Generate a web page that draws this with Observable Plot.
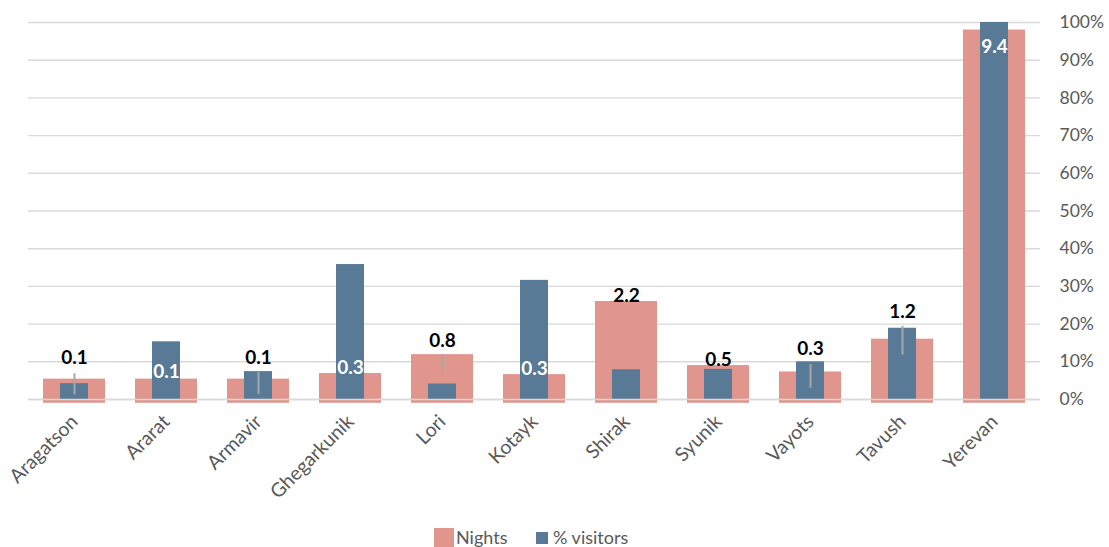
<!DOCTYPE html>
<html>
<head>
<meta charset="utf-8">
<script src="https://cdn.jsdelivr.net/npm/d3@7"></script>
<script src="https://cdn.jsdelivr.net/npm/@observablehq/plot@0.6"></script>
<style>
  html, body { margin: 0; padding: 0; background: #fff; }
  #wrap { position: relative; width: 1109px; height: 547px; overflow: hidden; font-family: Lato, "Open Sans", sans-serif; }
  #legend { position: absolute; left: 0; top: 526px; width: 1109px; height: 21px; }
  .sw { position: absolute; }
  .lt { position: absolute; font-size: 18px; color: #595959; line-height: 20px; }
</style>
</head>
<body>
<div id="wrap">
  <div id="chart"></div>
  <div id="legend">
    <div class="sw" style="left:434px; top:2px; width:20px; height:20px; background:#E0958D;"></div>
    <div class="lt" style="left:456px; top:1px;">Nights</div>
    <div class="sw" style="left:536px; top:6px; width:12px; height:12px; background:#597A97;"></div>
    <div class="lt" style="left:553px; top:1px;">% visitors</div>
  </div>
</div>
<script>
// ---- data ----
const regions = ["Aragatson","Ararat","Armavir","Ghegarkunik","Lori","Kotayk","Shirak","Syunik","Vayots","Tavush","Yerevan"];
const nights = [0.14, 0.14, 0.14, 0.29, 0.79, 0.26, 2.2, 0.5, 0.33, 1.2, 9.4];
const visitors = [0.042, 0.153, 0.074, 0.358, 0.041, 0.316, 0.079, 0.080, 0.100, 0.189, 1.00];
// hidden label series (position of the Nights data labels, on % axis)
const labelAt = [0.111, 0.073, 0.111, 0.085, 0.156, 0.082, 0.276, 0.106, 0.133, 0.233, 0.934];
// grey range lines (on % axis)
const errLow  = [0.012, null, 0.013, null, 0.077, null, null, null, 0.030, 0.118, null];
const errHigh = [0.068, null, 0.072, null, 0.119, null, null, null, 0.093, 0.194, null];
const pctTicks = [0, 0.1, 0.2, 0.3, 0.4, 0.5, 0.6, 0.7, 0.8, 0.9, 1.0];
// hidden secondary axis for Nights
const nightsMin = -0.4, nightsMax = 9.6, nightsFloor = -0.5;

const nToPct = n => (n - nightsMin) / (nightsMax - nightsMin);
const rows = regions.map((r, i) => ({
  region: r, nights: nights[i], visitors: visitors[i], labelAt: labelAt[i],
  lo: errLow[i], hi: errHigh[i]
}));
const errRows = rows.filter(d => d.lo != null);
const fmt1 = d3.format(".1f");

const chart = Plot.plot({
  width: 1109,
  height: 525,
  marginTop: 22,
  marginBottom: 126,
  marginLeft: 28,
  marginRight: 69,
  style: { fontFamily: "Lato, 'Open Sans', sans-serif", fontSize: "18px", background: "white" },
  x: { domain: regions, paddingInner: 0.33, paddingOuter: 0.165, label: null },
  y: { domain: [0, 1], label: null },
  marks: [
    Plot.gridY(pctTicks, { stroke: "#d9d9d9", strokeOpacity: 1, strokeWidth: 1.4 }),
    Plot.barY(rows, { x: "region", y1: () => nToPct(nightsFloor), y2: d => nToPct(d.nights), fill: "#E0958D" }),
    Plot.barY(rows, { x: "region", y1: 0, y2: "visitors", fill: "#597A97", insetLeft: 17, insetRight: 17 }),
    Plot.ruleY([0], { stroke: "#d9d9d9", strokeWidth: 1.6 }),
    Plot.ruleX(errRows, { x: "region", y1: "lo", y2: "hi", stroke: "#a6a6a6", strokeWidth: 2 }),
    Plot.text(rows, {
      x: "region", y: "labelAt", text: d => fmt1(d.nights),
      fill: d => d.labelAt < d.visitors ? "white" : "black",
      fontWeight: "bold", fontSize: 19
    }),
    Plot.axisY(pctTicks, { anchor: "right", tickFormat: d3.format(".0%"), tickSize: 0, tickPadding: 19, color: "#595959", fontSize: 17.5 }),
    Plot.axisX({ tickRotate: -45, tickSize: 0, tickPadding: 19, color: "#595959", fontSize: 19.5 })
  ]
});
document.getElementById("chart").appendChild(chart);
</script>
</body>
</html>
